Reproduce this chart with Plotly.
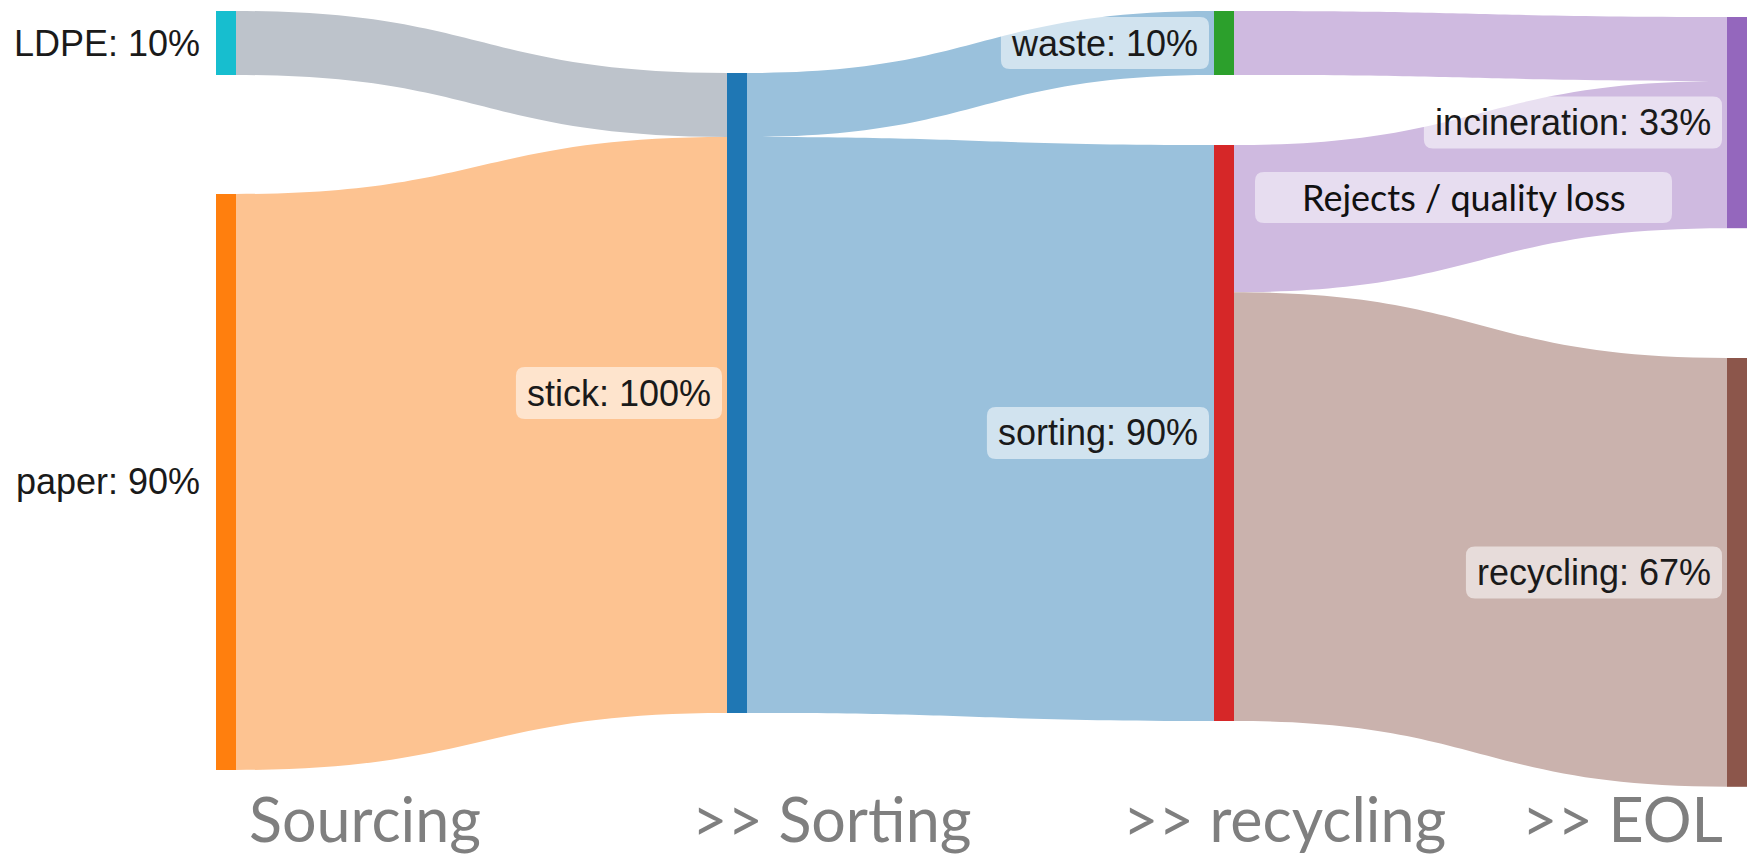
import plotly.graph_objects as go

# ---------------- data ----------------
node_names = ["LDPE", "paper", "stick", "waste", "sorting", "incineration", "recycling"]
link_source = ["LDPE", "paper", "stick", "stick", "waste", "sorting", "sorting"]
link_target = ["stick", "stick", "waste", "sorting", "incineration", "incineration", "recycling"]
link_value = [10, 90, 10, 90, 10, 23, 67]
stage_labels = ["Sourcing", ">> Sorting", ">> recycling", ">> EOL"]
note_text = "Rejects / quality loss"

# ---------------- styles / layout ----------------
node_colors = ["#17becf", "#ff7f0e", "#1f77b4", "#2ca02c", "#d62728", "#9467bd", "#8c564b"]
link_colors = ["#bdc3cb", "#fdc391", "#9ac1dc", "#9ac1dc", "#cfbae0", "#cfbae0", "#cab2ad"]

W, H = 1754, 858
PX_PER_UNIT = 6.4
NODE_PAD = H - 100 * PX_PER_UNIT
THICK = 20
node_col = [0, 0, 1, 2, 2, 3, 3]
col_center_px = [226, 737, 1224, 1737]
node_top_px = [11, 194, 73, 11, 145, 17, 358]
stage_left_px = [247, 690, 1121, 1520]
stage_mid_px = 818
stage_size = 61
note_center_px = (1463.5, 197.5)
note_box_size = (417, 51)

LABEL_SIZE = 36
BOX_H = 52
BOX_GAP = 5        # gap between box and node
TEXT_PAD_R = 10    # text to box right edge
TEXT_PAD_L = 12
RADIUS = 9

# Arial / Liberation Sans advance widths (per 1000 em)
AW = {' ': 278, ':': 278, '%': 889, '/': 278}
AW.update({d: 556 for d in "0123456789"})
AW.update(dict(a=556, b=556, c=500, d=556, e=556, f=278, g=556, h=556, i=222, j=222,
               k=500, l=222, m=833, n=556, o=556, p=556, q=556, r=333, s=500, t=278,
               u=556, v=500, w=722, x=500, y=500, z=500))
AW.update(dict(L=556, D=722, P=667, E=667))


def text_width(s, size):
    return sum(AW.get(ch, 556) for ch in s) * size / 1000.0


idx = {n: i for i, n in enumerate(node_names)}
src = [idx[s] for s in link_source]
tgt = [idx[t] for t in link_target]

node_val = []
for i in range(len(node_names)):
    vin = sum(v for s, t, v in zip(src, tgt, link_value) if t == i)
    vout = sum(v for s, t, v in zip(src, tgt, link_value) if s == i)
    node_val.append(max(vin, vout))

node_cy_px = [top + v * PX_PER_UNIT / 2 for top, v in zip(node_top_px, node_val)]
node_x = [col_center_px[c] / W for c in node_col]
node_y = [cy / H for cy in node_cy_px]

fig = go.Figure(go.Sankey(
    arrangement="freeform",
    domain=dict(x=[0, 1], y=[0, 1]),
    node=dict(
        label=node_names,
        color=node_colors,
        x=node_x,
        y=node_y,
        pad=NODE_PAD,
        thickness=THICK,
        line=dict(width=0),
    ),
    link=dict(source=src, target=tgt, value=link_value, color=link_colors),
    textfont=dict(color="rgba(0,0,0,0)", size=1),
))


def px(x, y):
    return f"{x / W:.6f},{1 - y / H:.6f}"


def rounded_rect(x0, y0, x1, y1, r):
    return ("M " + px(x0 + r, y0) + " L " + px(x1 - r, y0) + " Q " + px(x1, y0) + " " + px(x1, y0 + r)
            + " L " + px(x1, y1 - r) + " Q " + px(x1, y1) + " " + px(x1 - r, y1)
            + " L " + px(x0 + r, y1) + " Q " + px(x0, y1) + " " + px(x0, y1 - r)
            + " L " + px(x0, y0 + r) + " Q " + px(x0, y0) + " " + px(x0 + r, y0) + " Z")


label_font = dict(family="Liberation Sans, Arial, sans-serif", size=LABEL_SIZE, color="#1a1a1a")
annotations = []
shapes = []
for i, name in enumerate(node_names):
    txt = f"{name}: {node_val[i]}%"
    node_left = col_center_px[node_col[i]] - THICK / 2
    box_r = node_left - BOX_GAP
    text_r = box_r - TEXT_PAD_R
    box_l = text_r - text_width(txt, LABEL_SIZE) - TEXT_PAD_L
    cy = node_cy_px[i]
    shapes.append(dict(
        type="path", xref="paper", yref="paper", layer="above",
        path=rounded_rect(box_l, cy - BOX_H / 2, box_r, cy + BOX_H / 2, RADIUS),
        fillcolor="rgba(255,255,255,0.55)", line=dict(width=0),
    ))
    annotations.append(dict(
        x=text_r / W, y=1 - cy / H, xref="paper", yref="paper",
        xanchor="right", yanchor="middle", showarrow=False,
        text=txt, font=label_font, borderpad=0,
    ))

for lab, xl in zip(stage_labels, stage_left_px):
    annotations.append(dict(
        x=xl / W, y=1 - stage_mid_px / H, xref="paper", yref="paper",
        xanchor="left", yanchor="middle", showarrow=False,
        text=lab, font=dict(family="Lato, sans-serif", size=stage_size, color="#7f7f7f"),
    ))

ncx, ncy = note_center_px
bw, bh = note_box_size
shapes.append(dict(
    type="path", xref="paper", yref="paper", layer="above",
    path=rounded_rect(ncx - bw / 2, ncy - bh / 2, ncx + bw / 2, ncy + bh / 2, RADIUS),
    fillcolor="rgba(255,255,255,0.5)", line=dict(width=0),
))
annotations.append(dict(
    x=ncx / W, y=1 - ncy / H, xref="paper", yref="paper",
    xanchor="center", yanchor="middle", showarrow=False,
    text=note_text, font=dict(family="Lato, sans-serif", size=36, color="#111111"),
))

fig.update_layout(
    width=W, height=H,
    margin=dict(l=0, r=0, t=0, b=0),
    paper_bgcolor="white",
    annotations=annotations,
    shapes=shapes,
)

fig.write_html("out.html", config={"displayModeBar": False},
               post_script="document.body.style.margin='0px';")
